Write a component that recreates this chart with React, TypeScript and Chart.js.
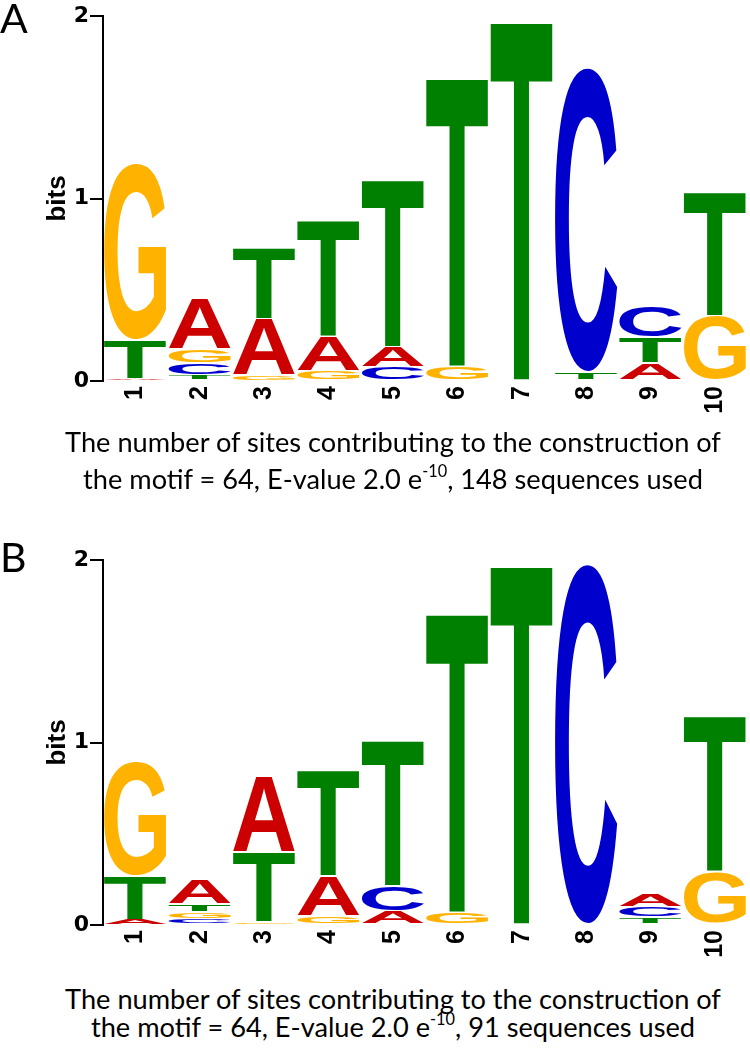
import React, { useEffect, useRef } from "react";
import { Chart, registerables } from "chart.js";

Chart.register(...registerables);

// ---------- data ----------
const positions = ["1", "2", "3", "4", "5", "6", "7", "8", "9", "10"];
const nucleotides = ["A", "C", "G", "T"];
const yTickValues = [0, 1, 2];

// Panel A (bits per nucleotide at each position)
const panelA_A = [0.01, 0.28, 0.31, 0.19, 0.115, 0, 0, 0, 0.1, 0];
const panelA_C = [0, 0.066, 0, 0, 0.075, 0, 0, 1.67, 0.175, 0];
const panelA_G = [0.97, 0.076, 0.03, 0.055, 0, 0.08, 0, 0, 0, 0.36];
const panelA_T = [0.215, 0.033, 0.39, 0.64, 0.92, 1.59, 1.98, 0.05, 0.14, 0.68];

// Panel B
const panelB_A = [0.03, 0.132, 0.42, 0.22, 0.077, 0, 0, 0, 0.075, 0];
const panelB_C = [0, 0.034, 0, 0, 0.14, 0, 0, 1.98, 0.055, 0];
const panelB_G = [0.63, 0.037, 0.015, 0.05, 0, 0.07, 0, 0, 0, 0.29];
const panelB_T = [0.24, 0.044, 0.385, 0.58, 0.8, 1.645, 1.98, 0, 0.045, 0.86];

const captionLine1 = "The number of sites contributing to the construction of";
const captionA2pre = "the motif = 64, E-value 2.0 e";
const captionA2post = ", 148 sequences used";
const captionB2pre = "the motif = 64, E-value 2.0 e";
const captionB2post = ", 91 sequences used";
const captionSup = "-10";

const letterColors: Record<string, string> = {
  A: "#CC0000",
  C: "#0000CC",
  G: "#FFB300",
  T: "#008000",
};

const LOGO_FONT = '"Liberation Sans", Arial, Helvetica, sans-serif';
const TICK_FONT = '"DejaVu Sans", Verdana, sans-serif';

function buildDatasets(series: Record<string, number[]>) {
  const datasets = [0, 1, 2, 3].map(() => ({
    data: [] as number[],
    letters: [] as string[],
    backgroundColor: "rgba(0,0,0,0)",
    borderWidth: 0,
    barPercentage: 0.965,
    categoryPercentage: 1,
  }));
  for (let i = 0; i < positions.length; i++) {
    const order = nucleotides
      .map((nt) => ({ nt, v: series[nt][i] }))
      .sort((a, b) => a.v - b.v);
    order.forEach((o, r) => {
      datasets[r].data.push(o.v);
      datasets[r].letters.push(o.nt);
    });
  }
  return datasets;
}

function drawLetter(
  ctx: CanvasRenderingContext2D,
  letter: string,
  left: number,
  top: number,
  w: number,
  h: number,
  color: string
) {
  ctx.save();
  ctx.font = `bold 200px ${LOGO_FONT}`;
  ctx.textAlign = "left";
  ctx.textBaseline = "alphabetic";
  const m = ctx.measureText(letter);
  const gl = m.actualBoundingBoxLeft;
  const gr = m.actualBoundingBoxRight;
  const ga = m.actualBoundingBoxAscent;
  const gd = m.actualBoundingBoxDescent;
  const gw = gl + gr;
  const gh = ga + gd;
  ctx.translate(left, top);
  ctx.scale(w / gw, h / gh);
  ctx.fillStyle = color;
  ctx.fillText(letter, gl, ga);
  ctx.restore();
}

const logoPlugin = {
  id: "logoLetters",
  afterDatasetsDraw(chart: any) {
    const ctx = chart.ctx as CanvasRenderingContext2D;
    chart.data.datasets.forEach((ds: any, di: number) => {
      const meta = chart.getDatasetMeta(di);
      meta.data.forEach((el: any, i: number) => {
        const v = ds.data[i];
        if (!v || v <= 0) return;
        const { x, y, base, width } = el.getProps(["x", "y", "base", "width"], true);
        let top = Math.min(y, base);
        let bottom = Math.max(y, base);
        if (bottom - top > 5) {
          top += 0.8;
          bottom -= 0.8;
        }
        const h = bottom - top;
        if (h < 0.4) return;
        const letter = ds.letters[i];
        drawLetter(ctx, letter, x - width / 2, top, width, h, letterColors[letter]);
      });
    });
  },
};

function LogoChart({ series, top }: { series: Record<string, number[]>; top: number }) {
  const ref = useRef<HTMLCanvasElement | null>(null);
  useEffect(() => {
    if (!ref.current) return;
    const chart = new Chart(ref.current, {
      type: "bar",
      data: {
        labels: positions,
        datasets: buildDatasets(series) as any,
      },
      plugins: [logoPlugin],
      options: {
        responsive: false,
        animation: false,
        layout: { padding: { left: 0, right: 2, top: 16, bottom: 0 } },
        plugins: {
          legend: { display: false },
          tooltip: { enabled: false },
        },
        scales: {
          x: {
            stacked: true,
            grid: { display: false, drawTicks: false },
            border: { display: false },
            ticks: {
              autoSkip: false,
              minRotation: 90,
              maxRotation: 90,
              padding: 5,
              color: "#000",
              font: { family: LOGO_FONT, size: 25, weight: "bold" },
            },
            afterFit: (s: any) => {
              s.height = 49;
            },
          },
          y: {
            stacked: true,
            min: yTickValues[0],
            max: yTickValues[yTickValues.length - 1],
            afterBuildTicks: (s: any) => {
              s.ticks = yTickValues.map((v) => ({ value: v }));
            },
            ticks: {
              padding: 1,
              color: "#000",
              font: { family: TICK_FONT, size: 22, weight: "bold" },
            },
            grid: {
              drawOnChartArea: false,
              drawTicks: true,
              tickLength: 13,
              color: "#000",
              lineWidth: 2,
            },
            border: { display: true, color: "#000", width: 2 },
            title: {
              display: true,
              text: "bits",
              color: "#000",
              font: { family: LOGO_FONT, size: 26, weight: "bold" },
              padding: { top: 42, bottom: 0 },
            },
            afterFit: (s: any) => {
              s.width = 103;
            },
          },
        },
      } as any,
    });
    return () => chart.destroy();
  }, [series]);
  return (
    <canvas
      ref={ref}
      width={750}
      height={430}
      style={{ position: "absolute", left: 0, top, width: 750, height: 430 }}
    />
  );
}

const seriesA = { A: panelA_A, C: panelA_C, G: panelA_G, T: panelA_T };
const seriesB = { A: panelB_A, C: panelB_C, G: panelB_G, T: panelB_T };

const captionFont = 'Lato, "Open Sans", sans-serif';
const CAPTION_SIZE = 27.2;

function CaptionLine({ top, children }: { top: number; children: React.ReactNode }) {
  return (
    <div
      style={{
        position: "absolute",
        left: 0,
        top,
        width: 786,
        textAlign: "center",
        fontFamily: captionFont,
        fontSize: CAPTION_SIZE,
        lineHeight: `${CAPTION_SIZE}px`,
        color: "#000",
        whiteSpace: "nowrap",
      }}
    >
      {children}
    </div>
  );
}

function Sup({ children }: { children: React.ReactNode }) {
  return (
    <span
      style={{
        fontSize: "60%",
        position: "relative",
        top: "-0.75em",
        lineHeight: 0,
        verticalAlign: "baseline",
      }}
    >
      {children}
    </span>
  );
}

function PanelLetter({ top, text }: { top: number; text: string }) {
  return (
    <div
      style={{
        position: "absolute",
        left: 0,
        top,
        fontFamily: captionFont,
        fontSize: 41,
        lineHeight: "41px",
        color: "#000",
      }}
    >
      {text}
    </div>
  );
}

export default function App() {
  return (
    <div
      style={{
        position: "absolute",
        left: 0,
        top: 0,
        width: 750,
        height: 1050,
        background: "#fff",
        overflow: "hidden",
      }}
    >
      <LogoChart series={seriesA} top={0} />
      <LogoChart series={seriesB} top={544} />
      <PanelLetter top={-3} text="A" />
      <PanelLetter top={535.5} text="B" />
      <CaptionLine top={428}>{captionLine1}</CaptionLine>
      <CaptionLine top={465}>
        {captionA2pre}
        <Sup>{captionSup}</Sup>
        {captionA2post}
      </CaptionLine>
      <CaptionLine top={985}>{captionLine1}</CaptionLine>
      <CaptionLine top={1013}>
        {captionB2pre}
        <Sup>{captionSup}</Sup>
        {captionB2post}
      </CaptionLine>
    </div>
  );
}
